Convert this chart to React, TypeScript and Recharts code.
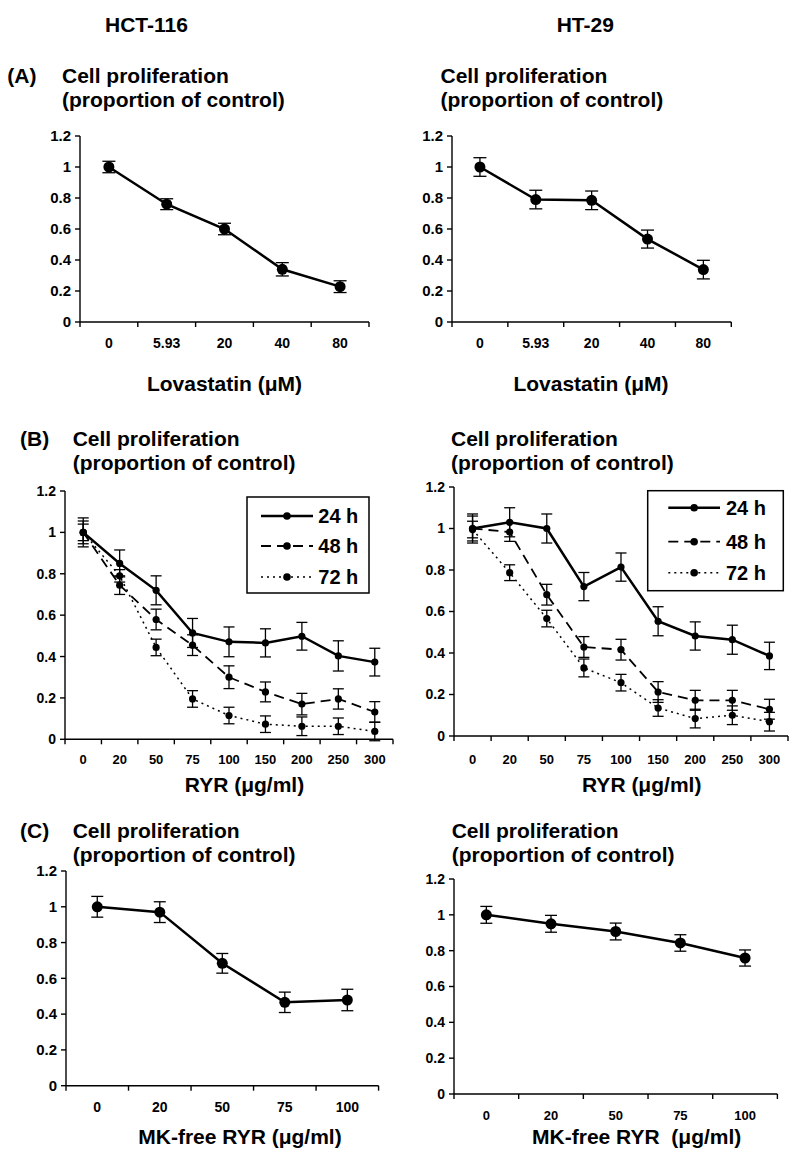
import React from 'react';
import { LineChart, Line, XAxis, YAxis, ErrorBar } from 'recharts';

// ---------- data ----------
const yTicks = [0, 0.2, 0.4, 0.6, 0.8, 1, 1.2];

const lovaDoses = ['0', '5.93', '20', '40', '80'];
const hctLova = [1.0, 0.76, 0.6, 0.34, 0.228];
const hctLovaErr = [0.037, 0.035, 0.037, 0.043, 0.038];
const htLova = [1.0, 0.79, 0.785, 0.535, 0.338];
const htLovaErr = [0.06, 0.06, 0.06, 0.058, 0.06];

const ryrDoses = ['0', '20', '50', '75', '100', '150', '200', '250', '300'];
const hct24 = [1.0, 0.85, 0.72, 0.514, 0.471, 0.466, 0.498, 0.403, 0.373];
const hct24Err = [0.07, 0.065, 0.07, 0.07, 0.072, 0.068, 0.067, 0.073, 0.067];
const hct48 = [1.0, 0.745, 0.579, 0.455, 0.3, 0.229, 0.17, 0.195, 0.132];
const hct48Err = [0.055, 0.045, 0.05, 0.05, 0.055, 0.048, 0.052, 0.049, 0.05];
const hct72 = [1.0, 0.79, 0.444, 0.195, 0.115, 0.073, 0.063, 0.063, 0.038];
const hct72Err = [0.04, 0.03, 0.04, 0.04, 0.04, 0.04, 0.045, 0.04, 0.045];

const ht24 = [1.0, 1.03, 1.0, 0.72, 0.814, 0.553, 0.482, 0.464, 0.386];
const ht24Err = [0.07, 0.07, 0.07, 0.068, 0.068, 0.07, 0.068, 0.07, 0.066];
const ht48 = [1.0, 0.983, 0.681, 0.429, 0.416, 0.212, 0.172, 0.172, 0.129];
const ht48Err = [0.06, 0.045, 0.05, 0.05, 0.05, 0.05, 0.048, 0.048, 0.048];
const ht72 = [0.995, 0.787, 0.566, 0.328, 0.257, 0.135, 0.084, 0.1, 0.069];
const ht72Err = [0.04, 0.038, 0.04, 0.043, 0.04, 0.04, 0.045, 0.045, 0.045];

const mkDoses = ['0', '20', '50', '75', '100'];
const hctMk = [1.0, 0.97, 0.684, 0.466, 0.479];
const hctMkErr = [0.058, 0.058, 0.055, 0.057, 0.06];
const htMk = [1.0, 0.95, 0.907, 0.843, 0.759];
const htMkErr = [0.047, 0.047, 0.047, 0.046, 0.045];

const timeLabels = ['24 h', '48 h', '72 h'];

// ---------- styles ----------
const FONT = '"Liberation Sans", Arial, Helvetica, sans-serif';
const DASH48 = '10 6';
const DASH72 = '2 4';

type SeriesDef = {
  key: string;
  values: number[];
  errors: number[];
  dash?: string;
  width: number;
  r: number;
};

type PanelProps = {
  left: number;
  right: number;
  top: number;
  bottom: number;
  cats: string[];
  series: SeriesDef[];
  xFont: number;
  yFont: number;
  xOffset: number;
  capW: number;
};

function Panel({ left, right, top, bottom, cats, series, xFont, yFont, xOffset, capW }: PanelProps) {
  const ML = 60, MT = 10, MR = 10, XH = 40;
  const W = right - left + ML + MR;
  const H = bottom - top + MT + XH;
  const data = cats.map((c, i) => {
    const row: any = { x: i, cat: c };
    series.forEach((s) => {
      row[s.key] = s.values[i];
      row[s.key + '_err'] = s.errors[i];
    });
    return row;
  });
  const xTicks: number[] = [];
  for (let i = 0; i <= cats.length; i++) xTicks.push(i - 0.5);
  for (let i = 0; i < cats.length; i++) xTicks.push(i);
  xTicks.sort((a, b) => a - b);

  const renderXTick = (p: any) => {
    const { x, y, payload } = p;
    const v = payload.value;
    if (Number.isInteger(v)) {
      return (
        <text x={x} y={y + xOffset} dy="0.71em" textAnchor="middle" fontSize={xFont} fontWeight="bold" fill="#000" fontFamily={FONT}>
          {cats[v]}
        </text>
      );
    }
    return <line x1={x} x2={x} y1={y} y2={y + 5} stroke="#000" strokeWidth={1.4} />;
  };

  return (
    <div style={{ position: 'absolute', left: left - ML, top: top - MT }}>
      <LineChart width={W} height={H} data={data} margin={{ top: MT, right: MR, bottom: 0, left: 0 }}>
        <XAxis
          type="number"
          dataKey="x"
          domain={[-0.5, cats.length - 0.5]}
          ticks={xTicks}
          interval={0}
          tickLine={false}
          tickSize={0}
          tickMargin={0}
          height={XH}
          axisLine={{ stroke: '#000', strokeWidth: 1.4 }}
          tick={renderXTick}
          allowDataOverflow
        />
        <YAxis
          type="number"
          domain={[0, 1.2]}
          ticks={yTicks}
          interval={0}
          width={ML}
          tickSize={5}
          tickMargin={4}
          axisLine={{ stroke: '#000', strokeWidth: 1.4 }}
          tickLine={{ stroke: '#000', strokeWidth: 1.4 }}
          tick={{ fontSize: yFont, fontWeight: 'bold', fill: '#000', fontFamily: FONT }}
          allowDataOverflow
        />
        {series.map((s) => (
          <Line
            key={s.key}
            type="linear"
            dataKey={s.key}
            stroke="#000"
            strokeWidth={s.width}
            strokeDasharray={s.dash}
            dot={{ r: s.r, fill: '#000', stroke: 'none', strokeDasharray: '' }}
            activeDot={false}
            isAnimationActive={false}
          >
            <ErrorBar dataKey={s.key + '_err'} width={capW} strokeWidth={1.3} stroke="#000" direction="y" />
          </Line>
        ))}
      </LineChart>
    </div>
  );
}

function T({ x, y, children, anchor = 'start', size = 21 }: any) {
  return (
    <text x={x} y={y} textAnchor={anchor} fontSize={size} fontWeight="bold" fill="#000" fontFamily={FONT} style={{ whiteSpace: 'pre' }}>
      {children}
    </text>
  );
}

function LegendBox({ x0, x1, y0, y1, lx0, lx1, tx, ys }: any) {
  const styles = [
    { w: 2.5, dash: undefined },
    { w: 1.8, dash: DASH48 },
    { w: 1.5, dash: DASH72 },
  ];
  return (
    <g>
      <rect x={x0} y={y0} width={x1 - x0} height={y1 - y0} fill="#fff" stroke="#000" strokeWidth={1.5} />
      {timeLabels.map((lab, i) => (
        <g key={lab}>
          <line x1={lx0} x2={lx1} y1={ys[i]} y2={ys[i]} stroke="#000" strokeWidth={styles[i].w} strokeDasharray={styles[i].dash} />
          <circle cx={(lx0 + lx1) / 2} cy={ys[i]} r={3.8} fill="#000" />
          <T x={tx} y={ys[i] + 7.2} size={20}>{lab}</T>
        </g>
      ))}
    </g>
  );
}

function bSeries(v24: number[], e24: number[], v48: number[], e48: number[], v72: number[], e72: number[]): SeriesDef[] {
  return [
    { key: 's72', values: v72, errors: e72, dash: DASH72, width: 1.5, r: 3.6 },
    { key: 's48', values: v48, errors: e48, dash: DASH48, width: 1.8, r: 3.6 },
    { key: 's24', values: v24, errors: e24, width: 2.5, r: 3.6 },
  ];
}

export default function App() {
  return (
    <div style={{ position: 'absolute', left: 0, top: 0, width: 800, height: 1163, background: '#fff', fontFamily: FONT, overflow: 'hidden' }}>
      {/* Panel A */}
      <Panel left={80} right={369} top={136} bottom={322} cats={lovaDoses}
        series={[{ key: 'v', values: hctLova, errors: hctLovaErr, width: 2.5, r: 5.5 }]}
        xFont={14} yFont={15} xOffset={16.4} capW={6.5} />
      <Panel left={451.7} right={731} top={136} bottom={322} cats={lovaDoses}
        series={[{ key: 'v', values: htLova, errors: htLovaErr, width: 2.5, r: 5.5 }]}
        xFont={14} yFont={15} xOffset={16.4} capW={6.5} />
      {/* Panel B */}
      <Panel left={65} right={393} top={490.7} bottom={739} cats={ryrDoses}
        series={bSeries(hct24, hct24Err, hct48, hct48Err, hct72, hct72Err)}
        xFont={13} yFont={14} xOffset={15.3} capW={5.5} />
      <Panel left={454.3} right={788.3} top={486.7} bottom={735.7} cats={ryrDoses}
        series={bSeries(ht24, ht24Err, ht48, ht48Err, ht72, ht72Err)}
        xFont={13} yFont={14} xOffset={18.6} capW={5.5} />
      {/* Panel C */}
      <Panel left={65.7} right={378.3} top={871} bottom={1085.7} cats={mkDoses}
        series={[{ key: 'v', values: hctMk, errors: hctMkErr, width: 2.5, r: 5.5 }]}
        xFont={14} yFont={15} xOffset={16.1} capW={6} />
      <Panel left={454.3} right={777.7} top={879.3} bottom={1094.3} cats={mkDoses}
        series={[{ key: 'v', values: htMk, errors: htMkErr, width: 2.5, r: 5.5 }]}
        xFont={13} yFont={14} xOffset={16.5} capW={6} />

      <svg width={800} height={1163} style={{ position: 'absolute', left: 0, top: 0, pointerEvents: 'none' }}>
        <T x={105} y={32.3}>HCT-116</T>
        <T x={556.7} y={32.3}>HT-29</T>

        <T x={7.3} y={83.3}>(A)</T>
        <T x={62} y={83.3}>Cell proliferation</T>
        <T x={62} y={107.3}>(proportion of control)</T>
        <T x={440.5} y={83.3}>Cell proliferation</T>
        <T x={440.5} y={107.3}>(proportion of control)</T>
        <T x={224.5} y={390.7} anchor="middle">Lovastatin (μM)</T>
        <T x={591} y={390.7} anchor="middle">Lovastatin (μM)</T>

        <T x={20} y={446}>(B)</T>
        <T x={72.7} y={446}>Cell proliferation</T>
        <T x={72.7} y={470}>(proportion of control)</T>
        <T x={451} y={446}>Cell proliferation</T>
        <T x={451} y={470}>(proportion of control)</T>
        <T x={244.5} y={792.3} anchor="middle">RYR (μg/ml)</T>
        <T x={641.7} y={792.3} anchor="middle">RYR (μg/ml)</T>

        <LegendBox x0={247} x1={369} y0={497} y1={593} lx0={261} lx1={313} tx={318.3} ys={[516, 546, 577]} />
        <LegendBox x0={647.7} x1={783.3} y0={490.7} y1={590.7} lx0={668.3} lx1={720} tx={726} ys={[507.7, 541.7, 572.7]} />

        <T x={20} y={838.3}>(C)</T>
        <T x={72.7} y={838.3}>Cell proliferation</T>
        <T x={72.7} y={862.3}>(proportion of control)</T>
        <T x={451.7} y={838.3}>Cell proliferation</T>
        <T x={451.7} y={862.3}>(proportion of control)</T>
        <T x={240} y={1144} anchor="middle">MK-free RYR (μg/ml)</T>
        <T x={636.7} y={1144} anchor="middle">{'MK-free RYR \u00A0(μg/ml)'}</T>
      </svg>
    </div>
  );
}
